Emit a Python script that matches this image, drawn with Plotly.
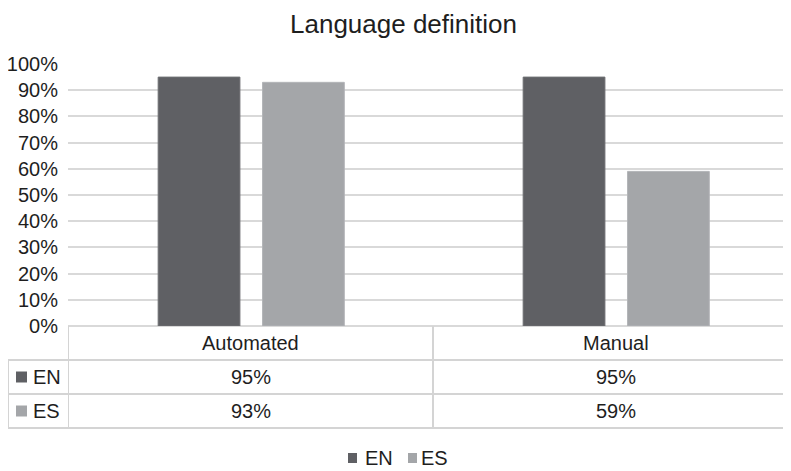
import plotly.graph_objects as go

categories = ["Automated", "Manual"]
series_names = ["EN", "ES"]
en_values = [0.95, 0.95]
es_values = [0.93, 0.59]
value_labels = {"EN": ["95%", "95%"], "ES": ["93%", "59%"]}
title = "Language definition"

colors = {"EN": "#5f6064", "ES": "#a4a6a9"}
outline = {"EN": "#6e6f73", "ES": "#b3b5b8"}
grid = "#d9d9d9"
txt = "#1e1e1e"
FONT = "Liberation Sans, Arial, sans-serif"

OFF = 8  # page body margin
W, H = 791 - OFF, 471 - OFF
PL, PT, PB = 68, 64, 326
ML, MR = PL - OFF, 0
MT = PT - OFF
MB = H - (PB - OFF)
plot_w = W - ML - MR
plot_h = H - MT - MB
cat_px = 365.0
x_range = [-0.5, -0.5 + plot_w / cat_px]


def py(y):  # screen pixel y -> paper y
    return (PB - y) / plot_h


def px(x):  # screen pixel x -> paper x
    return (x - PL) / plot_w


fig = go.Figure()
for name, vals, off in [("EN", en_values, -0.253), ("ES", es_values, 0.033)]:
    fig.add_trace(go.Bar(
        x=categories, y=vals, name=name, width=0.224, offset=off,
        marker=dict(color=colors[name], line=dict(color=outline[name], width=1)),
        showlegend=False, hoverinfo="skip",
    ))

shapes = []
line_style = dict(color="#d4d4d4", width=2)
for xv in [-0.5, 0.5]:
    shapes.append(dict(type="line", xref="x", yref="paper", x0=xv, x1=xv,
                       y0=py(326), y1=py(428), line=line_style))
shapes.append(dict(type="line", xref="paper", yref="paper", x0=px(8), x1=px(8),
                   y0=py(360), y1=py(428), line=line_style))
for yv in [360, 394, 428]:
    shapes.append(dict(type="line", xref="paper", yref="paper", x0=px(8), x1=1,
                       y0=py(yv), y1=py(yv), line=line_style))

annotations = []
tf = dict(size=20, color=txt, family=FONT)
for i, c in enumerate(categories):
    annotations.append(dict(text=c, x=i, xref="x", xanchor="center", y=py(343), yref="paper",
                            yanchor="middle", showarrow=False, font=tf))
row_y = {"EN": 377, "ES": 411}
for name in series_names:
    for i in range(len(categories)):
        annotations.append(dict(text=value_labels[name][i], x=i, xref="x", xanchor="center",
                                y=py(row_y[name]), yref="paper", yanchor="middle",
                                showarrow=False, font=tf))
    annotations.append(dict(text=name, x=px(31), xref="paper", xanchor="left",
                            y=py(row_y[name]), yref="paper", yanchor="middle",
                            showarrow=False, font=tf))
    shapes.append(dict(type="rect", xref="paper", yref="paper",
                       x0=px(16), x1=px(27), y0=py(row_y[name] + 5.5), y1=py(row_y[name] - 5.5),
                       fillcolor=colors[name], line=dict(width=0)))

leg = [("EN", 348, 363), ("ES", 408, 419)]
for name, sx, tx in leg:
    shapes.append(dict(type="rect", xref="paper", yref="paper",
                       x0=px(sx), x1=px(sx + 9), y0=py(463), y1=py(453),
                       fillcolor=colors[name], line=dict(width=0)))
    annotations.append(dict(text=name, x=px(tx), xref="paper", xanchor="left",
                            y=py(458), yref="paper", yanchor="middle",
                            showarrow=False, font=tf))

annotations.append(dict(text=title, x=px(403), xref="paper", xanchor="center",
                        y=py(OFF), yref="paper", yanchor="top", borderpad=0,
                        showarrow=False, font=dict(size=26, color=txt, family=FONT)))

fig.update_layout(
    width=W, height=H,
    margin=dict(l=ML, r=MR, t=MT, b=MB),
    paper_bgcolor="white", plot_bgcolor="white",
    barmode="overlay",
    shapes=shapes, annotations=annotations,
    xaxis=dict(range=x_range, showticklabels=False, showgrid=False, zeroline=False,
               showline=False, fixedrange=True),
    yaxis=dict(range=[0, 1], dtick=0.1, tickformat=".0%", showgrid=True,
               gridcolor=grid, gridwidth=2, zeroline=True, zerolinecolor=grid,
               zerolinewidth=2, showline=False, ticks="", ticklabelstandoff=9,
               tickfont=tf, fixedrange=True),
    font=dict(family=FONT),
)

fig.write_html("out.html")
